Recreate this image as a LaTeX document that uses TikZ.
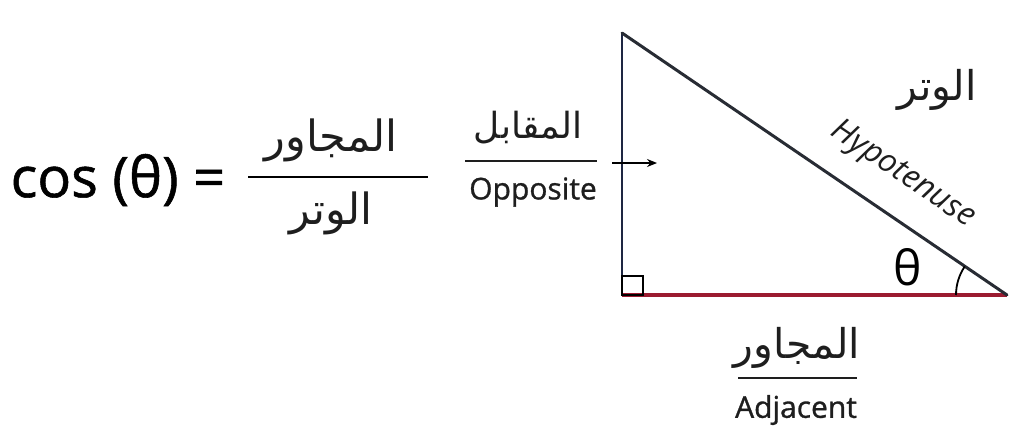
\documentclass[tikz,border=0pt]{standalone}
\usepackage{fontspec}
\usetikzlibrary{arrows.meta}
\setmainfont{Open Sans}[BoldFont={Open Sans},BoldFeatures={FakeBold=1}]
\newfontfamily\arabicfont[Script=Arabic]{DejaVu Sans}
\TeXXeTstate=1
\newcommand{\artext}[1]{{\arabicfont\beginR #1\endR}}
\definecolor{adjred}{RGB}{155,27,48}
\definecolor{oppnavy}{RGB}{30,38,66}
\definecolor{hypgray}{RGB}{40,44,52}
\definecolor{labelgray}{RGB}{30,30,30}
\tikzset{
  lbl/.style={inner sep=0pt,text=labelgray,font=\fontsize{30}{34}\selectfont\bfseries},
  arlbl/.style={inner sep=0pt,text=labelgray,font=\fontsize{41}{46}\arabicfont},
  bar/.style={line width=1.4pt,color=labelgray}
}
\begin{document}
\begin{tikzpicture}[x=1pt,y=-1pt]
\useasboundingbox (0,0) rectangle (1024,442);
\coordinate (top) at (622,33);
\coordinate (corner) at (622,295);
\coordinate (right) at (1007,295);
\draw[line width=3.6pt,color=adjred] (corner) -- (right);
\draw[line width=2.8pt,color=oppnavy] (corner) -- (top);
\draw[line width=3pt,color=hypgray,line cap=round] (top) -- (right);
\draw[line width=2.2pt] (corner) rectangle ++(21,-19);
\draw[line width=1.8pt] (right) ++(-51,0) arc[start angle=180,end angle=214,radius=51];
\node[inner sep=0pt,font=\fontsize{48}{50}\selectfont] (angle) at (908,267) {θ};
\coordinate (arrowtail) at (612,163);
\coordinate (arrowhead) at (657,163);
\draw[line width=1.3pt,-{Stealth[length=10pt,width=8pt]}] (arrowtail) -- (arrowhead);

\node[inner sep=0pt,font=\fontsize{56}{60}\selectfont\bfseries] (cos) at (118,180) {cos (θ) =};
\node[arlbl,font=\fontsize{43}{48}\arabicfont] (fracnum) at (331,140) {\artext{المجاور}};
\node[arlbl,font=\fontsize{43}{48}\arabicfont] (fracden) at (331,213) {\artext{الوتر}};
\draw[line width=2.8pt] (248,177) -- (428,177);

\node[arlbl,font=\fontsize{36}{40}\arabicfont] (opparab) at (528,128) {\artext{المقابل}};
\node[lbl] (oppeng) at (533,192) {Opposite};
\draw[bar] (465,161) -- (597,161);

\node[arlbl] (adjarab) at (797,348) {\artext{المجاور}};
\node[lbl] (adjeng) at (796,410) {Adjacent};
\draw[bar] (738,378) -- (857,378);

\node[arlbl] (hyparab) at (937,90) {\artext{الوتر}};
\node[lbl,rotate=-34,font=\fontsize{32}{34}\bfseries\itshape] (hypeng) at (903,175) {Hypotenuse};
\end{tikzpicture}
\end{document}
